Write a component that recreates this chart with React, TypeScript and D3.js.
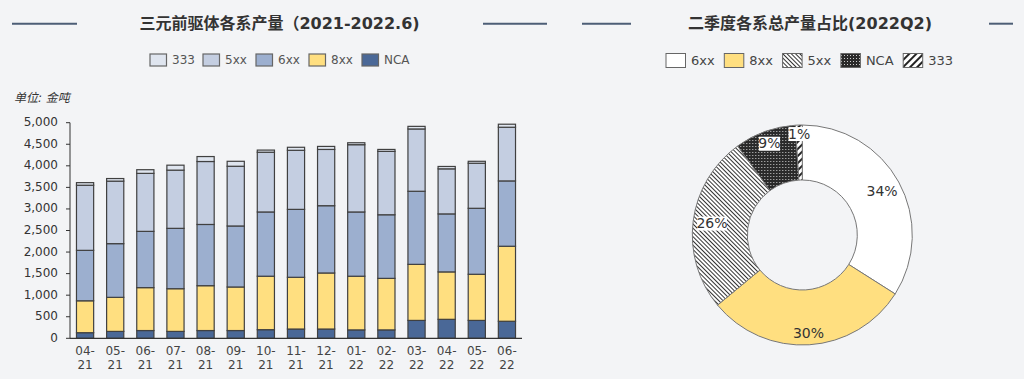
import React from 'react';
import * as d3 from 'd3';

const months = ['04-21','05-21','06-21','07-21','08-21','09-21','10-21','11-21','12-21','01-22','02-22','03-22','04-22','05-22','06-22'];
const sNCA = [130,160,180,160,180,180,200,215,215,195,195,415,440,415,395];
const s8xx = [740,790,995,990,1040,1010,1240,1200,1300,1245,1195,1300,1100,1070,1740];
const s6xx = [1170,1245,1305,1400,1420,1415,1490,1575,1560,1490,1475,1695,1345,1530,1515];
const s5xx = [1510,1450,1345,1350,1460,1385,1385,1370,1305,1560,1470,1445,1045,1045,1245];
const s333 = [60,60,85,115,115,115,50,70,70,45,45,60,55,45,70];
const yTicks = [0,500,1000,1500,2000,2500,3000,3500,4000,4500,5000];

const barKeys = ['NCA','8xx','6xx','5xx','333'];
const barColors: Record<string,string> = { '333':'#dfe5ef', '5xx':'#c4cee1', '6xx':'#9cafcf', '8xx':'#ffdf80', 'NCA':'#4a6897' };
const barLegend = ['333','5xx','6xx','8xx','NCA'];

const pieLabels = ['6xx','8xx','5xx','NCA','333'];
const pieValues = [34,30,26,9,1];
const pieFills = ['#ffffff','#ffdf80','url(#p5xx)','url(#pNCA)','url(#p333)'];
const pieLabelR = [91,99,91,97,101];
const pieLabelBox = [false,false,true,true,true];

const FONT = '"DejaVu Sans", Verdana, "Noto Sans CJK SC", sans-serif';

export default function App() {
  const rows = months.map((m,i)=>({m, NCA:sNCA[i], '8xx':s8xx[i], '6xx':s6xx[i], '5xx':s5xx[i], '333':s333[i]}));
  const stack = d3.stack<any>().keys(barKeys)(rows);
  const x = d3.scaleBand().domain(months).range([70,522]).paddingInner(0.43).paddingOuter(0.215);
  const y = d3.scaleLinear().domain([0,5000]).range([338.3,122.7]);
  const fmt = d3.format(',');

  const cx = 802.3, cy = 235;
  const pie = d3.pie<number>().sort(null).value(d=>d)(pieValues);
  const arc = d3.arc<any>().innerRadius(55).outerRadius(110);

  const legL: {k:string; sx:number; tx:number}[] = [];
  let lx = 150;
  barLegend.forEach(k=>{ legL.push({k, sx:lx, tx:lx+22}); lx += 22 + (k==='NCA'?26:22.5) + 8.5; });
  const legR: {k:string; sx:number; tx:number; fill:string}[] = [];
  let rx = 666;
  pieLabels.forEach((k,i)=>{ legR.push({k, sx:rx, tx:rx+25, fill:pieFills[i]}); rx += 25 + (k==='NCA'?28:24) + 9.3; });

  return (
    <svg width={1024} height={379} style={{position:'absolute', left:0, top:0, fontFamily:FONT}}>
      <defs>
        <pattern id="p5xx" patternUnits="userSpaceOnUse" width={3} height={3} patternTransform="rotate(45)">
          <rect width={3} height={3} fill="#fff"/>
          <rect y={0} width={3} height={1} fill="#333"/>
        </pattern>
        <pattern id="p333" patternUnits="userSpaceOnUse" width={5} height={5} patternTransform="rotate(-45)">
          <rect width={5} height={5} fill="#fff"/>
          <rect y={0} width={5} height={2} fill="#222"/>
        </pattern>
        <pattern id="pNCA" patternUnits="userSpaceOnUse" width={3} height={3}>
          <rect width={3} height={3} fill="#2a2a2a"/>
          <rect x={1} y={1} width={1} height={1} fill="#cfcfcf"/>
        </pattern>
      </defs>
      <rect width={1024} height={379} fill="#f3f4f6"/>

      {/* Left title */}
      <line x1={12} x2={77} y1={23.7} y2={23.7} stroke="#4d5e76" strokeWidth={2}/>
      <line x1={483} x2={547} y1={23.7} y2={23.7} stroke="#4d5e76" strokeWidth={2}/>
      <text x={279.5} y={24} textAnchor="middle" dominantBaseline="middle" fontSize={16} fontWeight="bold" fill="#333">三元前驱体各系产量（2021-2022.6)</text>

      {legL.map(d=>(
        <g key={d.k}>
          <rect x={d.sx} y={54} width={16.5} height={12} fill={barColors[d.k]} stroke="#666" strokeWidth={1.2}/>
          <text x={d.tx} y={60.5} dominantBaseline="middle" fontSize={12} fill="#555">{d.k}</text>
        </g>
      ))}

      <text x={14} y={98} dominantBaseline="middle" fontSize={12} fontStyle="italic" fill="#333">单位: 金吨</text>

      {/* y axis */}
      <line x1={70} x2={70} y1={y(5000)} y2={y(0)} stroke="#333" strokeWidth={1}/>
      {yTicks.map(t=>(
        <g key={t}>
          <line x1={66} x2={70} y1={y(t)} y2={y(t)} stroke="#333"/>
          <text x={58} y={y(t)} textAnchor="end" dominantBaseline="middle" fontSize={12} fill="#333">{fmt(t)}</text>
        </g>
      ))}

      {/* bars */}
      {stack.map(layer=>(
        <g key={layer.key}>
          {layer.map((d,i)=>(
            <rect key={i} x={x(months[i])!} width={x.bandwidth()} y={y(d[1])} height={y(d[0])-y(d[1])}
              fill={barColors[layer.key]} stroke="#404040" strokeWidth={1.2}/>
          ))}
        </g>
      ))}
      <line x1={70} x2={522} y1={y(0)} y2={y(0)} stroke="#333" strokeWidth={1.2}/>
      {months.map(m=>{
        const [a,b] = m.split('-');
        const cxm = x(m)! + x.bandwidth()/2;
        return (
          <g key={m}>
            <text x={cxm} y={351} textAnchor="middle" dominantBaseline="middle" fontSize={12} fill="#444">{a}-</text>
            <text x={cxm} y={365} textAnchor="middle" dominantBaseline="middle" fontSize={12} fill="#444">{b}</text>
          </g>
        );
      })}

      {/* Right title */}
      <line x1={582} x2={631} y1={23.7} y2={23.7} stroke="#4d5e76" strokeWidth={2}/>
      <line x1={989} x2={1013} y1={23.7} y2={23.7} stroke="#4d5e76" strokeWidth={2}/>
      <text x={810} y={24} textAnchor="middle" dominantBaseline="middle" fontSize={16} fontWeight="bold" fill="#333">二季度各系总产量占比(2022Q2)</text>

      {legR.map(d=>(
        <g key={d.k}>
          <rect x={d.sx} y={53.5} width={19.5} height={14} fill={d.fill} stroke="#666" strokeWidth={1}/>
          <text x={d.tx} y={61} dominantBaseline="middle" fontSize={13} fill="#444">{d.k}</text>
        </g>
      ))}

      {/* donut */}
      <g transform={`translate(${cx},${cy})`}>
        {pie.map((p,i)=>(
          <path key={i} d={arc(p)!} fill={pieFills[i]} stroke="#777" strokeWidth={1}/>
        ))}
        {pie.map((p,i)=>{
          const a = (p.startAngle+p.endAngle)/2;
          const r = pieLabelR[i];
          const lxp = r*Math.sin(a), lyp = -r*Math.cos(a);
          const txt = `${pieValues[i]}%`;
          const w = txt.length*8.6 + 4;
          return (
            <g key={'l'+i}>
              {pieLabelBox[i] && <rect x={lxp-w/2} y={lyp-7} width={w} height={14} fill="#fff"/>}
              <text x={lxp} y={lyp+0.5} textAnchor="middle" dominantBaseline="middle" fontSize={14} fill="#333">{txt}</text>
            </g>
          );
        })}
      </g>
    </svg>
  );
}
